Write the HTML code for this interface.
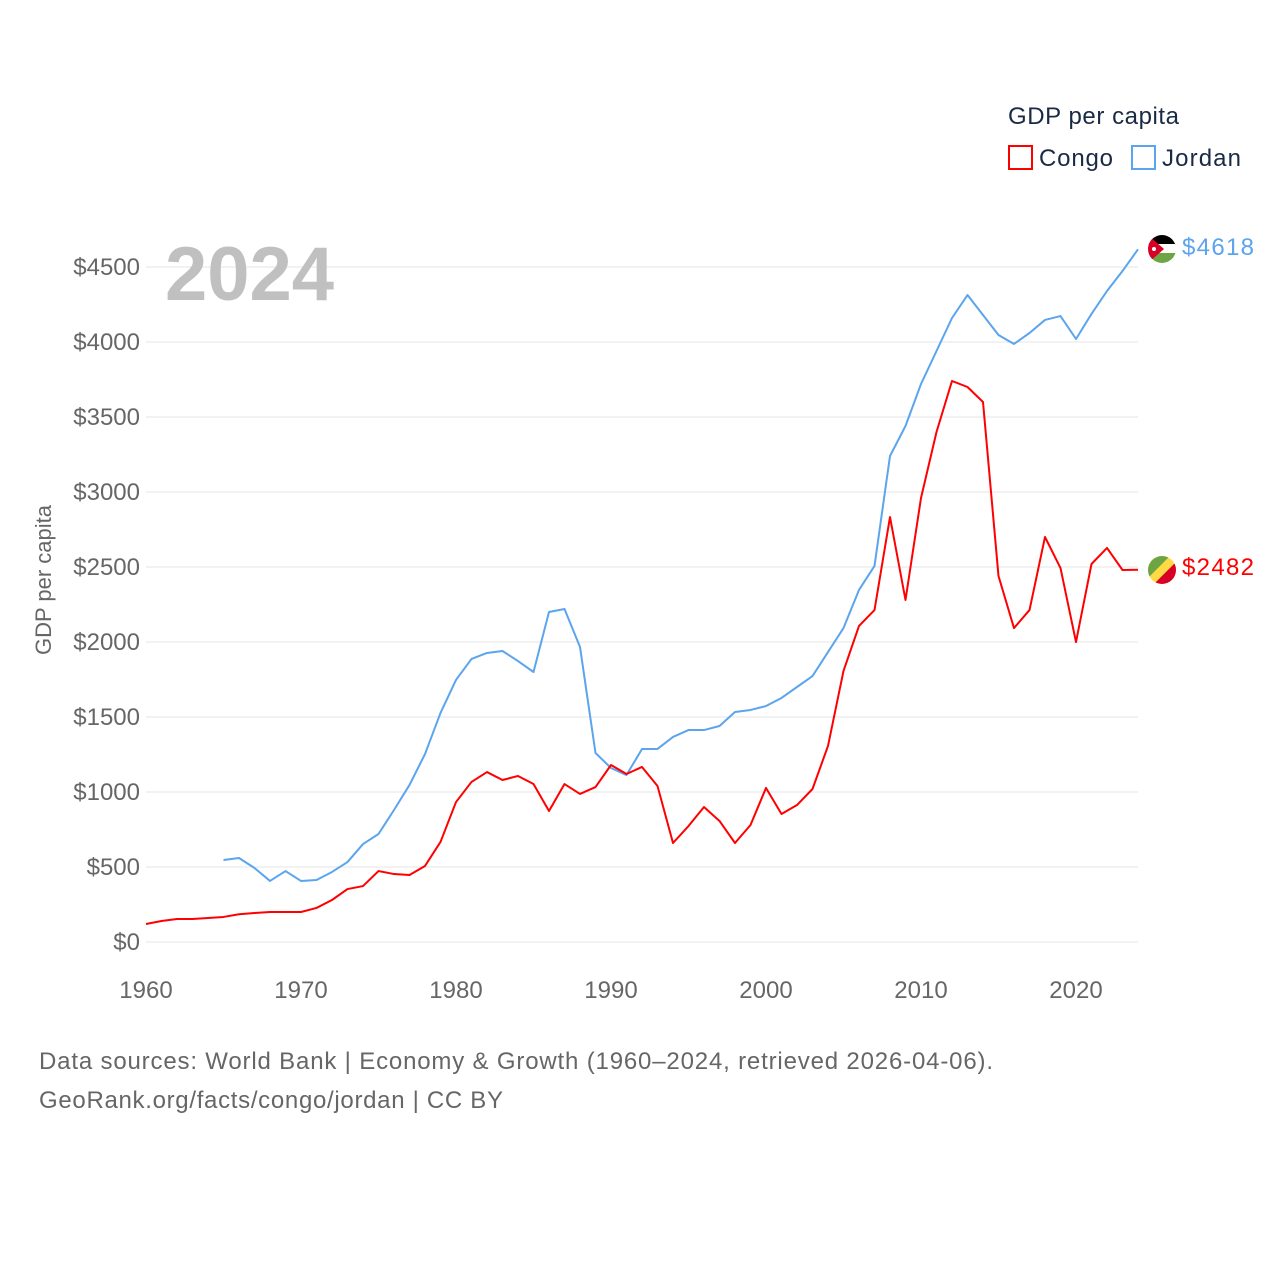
<!DOCTYPE html>
<html><head><meta charset="utf-8">
<style>
body{margin:0;background:#fff;font-family:"Liberation Sans",sans-serif;}
svg text{font-family:"Liberation Sans",sans-serif;}
</style></head>
<body>
<svg id="chart" width="1280" height="1280" viewBox="0 0 1280 1280" xmlns="http://www.w3.org/2000/svg">
<g id="grid"></g>
<g id="yticks"></g>
<g id="xticks"></g>
<text x="165" y="300" font-size="76" font-weight="bold" fill="#c0c0c0">2024</text>
<text transform="translate(51,580) rotate(-90)" text-anchor="middle" font-size="22" fill="#666">GDP per capita</text>
<g id="lines"></g>
<g>
<text x="1008" y="124" font-size="24" fill="#1a2a44" textLength="171">GDP per capita</text>
<rect x="1009" y="146" width="23" height="23" fill="none" stroke="#ff0000" stroke-width="2"/>
<text x="1039" y="166" font-size="24" fill="#1a2a44" textLength="74">Congo</text>
<rect x="1132" y="146" width="23" height="23" fill="none" stroke="#5ba4ee" stroke-width="2"/>
<text x="1162" y="166" font-size="24" fill="#1a2a44" textLength="79">Jordan</text>
</g>
<g>
<clipPath id="cj"><circle cx="1162" cy="249" r="14"/></clipPath>
<g clip-path="url(#cj)">
<rect x="1148" y="235" width="28" height="10" fill="#000"/>
<rect x="1148" y="244" width="28" height="10" fill="#fff"/>
<rect x="1148" y="253" width="28" height="10" fill="#6da544"/>
<polygon points="1148,235 1164,249 1148,263" fill="#d80027"/>
<circle cx="1154" cy="249" r="2" fill="#fff"/>
</g></g>
<g>
<clipPath id="cc"><circle cx="1162" cy="570" r="14"/></clipPath>
<g clip-path="url(#cc)">
<rect x="1148" y="556" width="28" height="28" fill="#ffda44"/>
<polygon points="1148,556 1170,556 1148,578" fill="#6da544"/>
<polygon points="1176,562 1176,584 1154,584" fill="#d80027"/>
</g></g>
<text x="1182" y="255" font-size="24" fill="#5ba4ee" textLength="72">$4618</text>
<text x="1182" y="575" font-size="24" fill="#ff0000" textLength="72">$2482</text>
<text x="39" y="1069" font-size="24" fill="#666" textLength="954">Data sources: World Bank | Economy &amp; Growth (1960–2024, retrieved 2026-04-06).</text>
<text x="39" y="1108" font-size="24" fill="#666" textLength="464">GeoRank.org/facts/congo/jordan | CC BY</text>
</svg>
<script>
const yTicks=[0,500,1000,1500,2000,2500,3000,3500,4000,4500];
const xTicks=[1960,1970,1980,1990,2000,2010,2020];
const congoYears=[1960,1961,1962,1963,1964,1965,1966,1967,1968,1969,1970,1971,1972,1973,1974,1975,1976,1977,1978,1979,1980,1981,1982,1983,1984,1985,1986,1987,1988,1989,1990,1991,1992,1993,1994,1995,1996,1997,1998,1999,2000,2001,2002,2003,2004,2005,2006,2007,2008,2009,2010,2011,2012,2013,2014,2015,2016,2017,2018,2019,2020,2021,2022,2023,2024];
const congoValues=[120,140,153,153,160,167,185,193,200,200,200,227,280,353,373,473,453,447,507,667,933,1067,1133,1080,1107,1053,873,1053,987,1033,1180,1120,1167,1040,660,773,900,807,660,780,1027,853,913,1020,1307,1807,2107,2213,2833,2280,2960,3400,3740,3700,3600,2440,2093,2213,2700,2493,2000,2520,2627,2480,2482];
const jordanYears=[1965,1966,1967,1968,1969,1970,1971,1972,1973,1974,1975,1976,1977,1978,1979,1980,1981,1982,1983,1984,1985,1986,1987,1988,1989,1990,1991,1992,1993,1994,1995,1996,1997,1998,1999,2000,2001,2002,2003,2004,2005,2006,2007,2008,2009,2010,2011,2012,2013,2014,2015,2016,2017,2018,2019,2020,2021,2022,2023,2024];
const jordanValues=[547,560,493,407,473,407,413,467,533,653,720,880,1047,1253,1527,1747,1887,1927,1940,1873,1800,2200,2220,1967,1260,1160,1113,1287,1287,1367,1413,1413,1440,1533,1547,1573,1627,1700,1773,1933,2093,2347,2507,3240,3440,3720,3940,4160,4313,4180,4047,3987,4060,4147,4173,4020,4187,4340,4473,4618];
const xS=y=>146+15.5*(y-1960);
const yS=v=>942-0.15*v;
const NS='http://www.w3.org/2000/svg';
function mk(t,a,p){const e=document.createElementNS(NS,t);for(const k in a)e.setAttribute(k,a[k]);p.appendChild(e);return e;}
const grid=document.getElementById('grid'),yt=document.getElementById('yticks'),xt=document.getElementById('xticks'),ln=document.getElementById('lines');
yTicks.forEach(v=>{
 const l=mk('line',{x1:146,x2:1138,y1:yS(v),y2:yS(v),stroke:'#e6e6e6','stroke-width':1},grid);
 
 
 const t=mk('text',{x:140,y:yS(v)+8,'text-anchor':'end','font-size':24,fill:'#666'},yt);
 t.textContent='$'+v;
 
 
});
xTicks.forEach(y=>{
 const t=mk('text',{x:xS(y),y:998,'text-anchor':'middle','font-size':24,fill:'#666'},xt);
 t.textContent=y;
 
 
});
function line(ys,vs,c,name){
 const p=mk('polyline',{points:ys.map((y,i)=>xS(y)+','+yS(vs[i])).join(' '),fill:'none',stroke:c,'stroke-width':2,'stroke-linejoin':'round'},ln);
 
 
}
line(jordanYears,jordanValues,'#5ba4ee','jordan-line');
line(congoYears,congoValues,'#ff0000','congo-line');
</script>
</body></html>
